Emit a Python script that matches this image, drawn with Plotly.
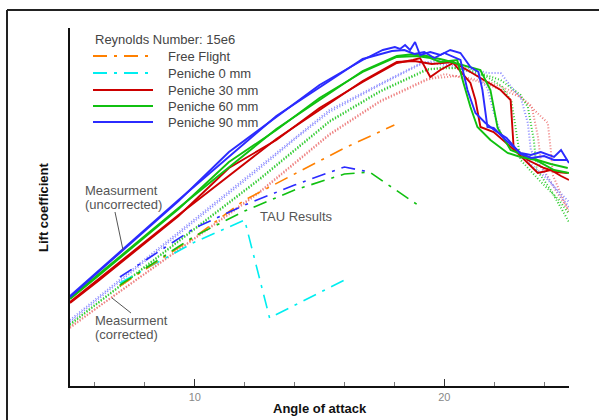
import plotly.graph_objects as go

# ---------------- data (angle of attack, lift coefficient) ----------------
# Measurement, uncorrected (solid) - two sweeps per configuration
blue_a_x = [5.00, 6.13, 7.06, 9.35, 11.37, 13.27, 15.00, 16.73, 17.54, 18.02, 18.23, 18.43, 18.63, 18.83, 19.03, 19.44, 19.84, 20.24, 20.65, 21.05, 21.37, 21.53, 21.73, 21.98, 22.46, 23.06, 23.47, 23.87, 24.40, 24.68, 25.00]
blue_a_y = [0.445, 0.57, 0.675, 0.925, 1.17, 1.345, 1.505, 1.63, 1.68, 1.695, 1.685, 1.705, 1.68, 1.72, 1.655, 1.67, 1.655, 1.68, 1.665, 1.595, 1.57, 1.48, 1.295, 1.29, 1.23, 1.165, 1.155, 1.17, 1.145, 1.18, 1.115]
blue_b_x = [5.00, 9.35, 13.27, 16.73, 17.90, 18.40, 18.80, 19.20, 19.60, 20.00, 20.65, 20.93, 21.25, 21.65, 22.00, 22.50, 23.06, 23.50, 24.00, 24.40, 24.95]
blue_b_y = [0.45, 0.93, 1.35, 1.635, 1.675, 1.68, 1.66, 1.67, 1.64, 1.665, 1.63, 1.48, 1.365, 1.315, 1.28, 1.24, 1.16, 1.14, 1.15, 1.13, 1.13]

green_a_x = [5.00, 6.13, 9.35, 11.37, 13.27, 15.00, 16.73, 18.10, 18.91, 19.44, 19.84, 20.52, 20.77, 21.05, 21.33, 21.85, 22.54, 23.06, 23.67, 24.40, 25.00]
green_a_y = [0.435, 0.55, 0.885, 1.12, 1.28, 1.44, 1.57, 1.645, 1.65, 1.64, 1.62, 1.63, 1.515, 1.395, 1.295, 1.23, 1.165, 1.145, 1.13, 1.08, 1.065]
green_b_x = [5.00, 9.35, 13.27, 16.73, 18.10, 18.80, 19.30, 20.00, 21.45, 21.85, 22.14, 22.66, 23.47, 24.27, 24.95]
green_b_y = [0.44, 0.89, 1.285, 1.575, 1.65, 1.66, 1.65, 1.63, 1.58, 1.48, 1.29, 1.18, 1.14, 1.11, 1.09]

red_a_x = [5.00, 6.13, 9.35, 11.37, 13.27, 15.00, 16.73, 18.10, 18.75, 19.03, 19.44, 19.84, 20.36, 21.05, 21.25, 21.45, 21.98, 22.94, 23.75, 24.27, 24.68, 25.00]
red_a_y = [0.415, 0.525, 0.85, 1.09, 1.23, 1.39, 1.52, 1.615, 1.63, 1.64, 1.545, 1.58, 1.615, 1.515, 1.43, 1.295, 1.27, 1.165, 1.065, 1.08, 1.05, 1.03]
red_b_x = [5.00, 9.35, 13.27, 16.73, 18.10, 18.80, 19.50, 20.36, 21.05, 22.26, 22.66, 22.78, 23.35, 24.00, 24.50, 24.95]
red_b_y = [0.42, 0.855, 1.235, 1.525, 1.62, 1.625, 1.61, 1.62, 1.57, 1.48, 1.43, 1.195, 1.13, 1.09, 1.07, 1.065]

# Measurement, corrected (dotted)
lav_a_x = [5.00, 6.13, 12.58, 14.07, 15.40, 17.42, 19.15, 19.84, 20.77, 21.73, 22.26, 22.78, 23.06, 23.35, 23.47, 23.87, 24.68, 25.00]
lav_a_y = [0.32, 0.435, 1.085, 1.24, 1.37, 1.505, 1.615, 1.63, 1.595, 1.565, 1.565, 1.48, 1.445, 1.315, 1.18, 1.095, 0.945, 0.895]
lav_b_x = [5.00, 12.58, 15.40, 17.42, 19.15, 20.40, 21.25, 21.73, 22.00, 22.30, 23.00, 24.00, 24.70, 25.00]
lav_b_y = [0.33, 1.095, 1.38, 1.51, 1.62, 1.60, 1.56, 1.49, 1.36, 1.25, 1.16, 1.05, 0.96, 0.92]

gdot_a_x = [5.00, 6.13, 12.58, 15.40, 17.42, 19.31, 20.04, 21.05, 22.26, 23.06, 23.35, 23.59, 23.71, 24.27, 25.00]
gdot_a_y = [0.305, 0.415, 1.03, 1.32, 1.47, 1.58, 1.595, 1.58, 1.53, 1.455, 1.395, 1.23, 1.08, 0.98, 0.82]
gdot_b_x = [5.00, 12.58, 15.40, 17.42, 19.31, 20.50, 21.65, 22.30, 22.70, 22.90, 23.06, 23.80, 24.60, 25.00]
gdot_b_y = [0.31, 1.035, 1.325, 1.475, 1.585, 1.59, 1.55, 1.50, 1.42, 1.25, 1.13, 1.03, 0.93, 0.86]

rdot_a_x = [5.00, 6.13, 12.58, 15.40, 17.42, 19.31, 20.04, 21.45, 23.06, 24.15, 24.27, 24.35, 25.00]
rdot_a_y = [0.29, 0.395, 0.965, 1.255, 1.42, 1.53, 1.56, 1.52, 1.445, 1.315, 1.18, 1.055, 0.865]
rdot_b_x = [5.00, 12.58, 15.40, 17.42, 19.31, 20.50, 21.80, 22.80, 23.50, 23.75, 23.90, 24.50, 25.00]
rdot_b_y = [0.295, 0.97, 1.26, 1.425, 1.535, 1.55, 1.52, 1.47, 1.40, 1.25, 1.10, 0.97, 0.88]

# TAU results (dash-dot)
tau_ff_x = [7, 10, 12, 14, 16, 18]
tau_ff_y = [0.50, 0.745, 0.93, 1.06, 1.19, 1.305]
tau_p0_x = [7, 10, 12, 13, 16]
tau_p0_y = [0.515, 0.72, 0.83, 0.34, 0.53]
tau_p60_x = [7, 10, 12, 14, 16, 17, 19]
tau_p60_y = [0.505, 0.75, 0.875, 0.98, 1.06, 1.07, 0.90]
tau_p90_x = [7, 10, 12, 14, 16, 17]
tau_p90_y = [0.545, 0.79, 0.905, 1.005, 1.095, 1.07]

legend_labels = ["Free Flight", "Peniche 0 mm", "Peniche 30 mm", "Peniche 60 mm", "Peniche 90 mm"]
x_ticks = [10, 20]

# ---------------- styles ----------------
ORANGE = "#ff8000"
CYAN = "#00eef0"
RED = "#cc0000"
GREEN = "#10c010"
BLUE = "#2b2bff"
LAV = "#8a8aff"
GDOT = "#33cc33"
RDOT = "#ee8080"
DASHDOT = "14px,7px,3px,7px"
FONT = "Liberation Sans, Arial, sans-serif"

fig = go.Figure()

def add(x, y, color, width, dash):
    fig.add_trace(go.Scatter(x=x, y=y, mode="lines", showlegend=False, hoverinfo="skip",
                             line=dict(color=color, width=width, dash=dash)))

# corrected (dotted)
for xs, ys, c in [(rdot_a_x, rdot_a_y, RDOT), (rdot_b_x, rdot_b_y, RDOT),
                  (gdot_a_x, gdot_a_y, GDOT), (gdot_b_x, gdot_b_y, GDOT),
                  (lav_a_x, lav_a_y, LAV), (lav_b_x, lav_b_y, LAV)]:
    add(xs, ys, c, 2, "1px,2px")

# TAU
add(tau_p0_x, tau_p0_y, CYAN, 1.6, DASHDOT)
add(tau_ff_x, tau_ff_y, ORANGE, 1.6, DASHDOT)
add(tau_p60_x, tau_p60_y, GREEN, 1.6, DASHDOT)
add(tau_p90_x, tau_p90_y, BLUE, 1.6, DASHDOT)

# uncorrected (solid)
for xs, ys, c in [(red_a_x, red_a_y, RED), (red_b_x, red_b_y, RED),
                  (green_a_x, green_a_y, GREEN), (green_b_x, green_b_y, GREEN),
                  (blue_a_x, blue_a_y, BLUE), (blue_b_x, blue_b_y, BLUE)]:
    add(xs, ys, c, 1.9, "solid")

# ---------------- layout ----------------
L, T, W, H = 70, 28, 499, 358  # plot area in px

def px(x):
    return (x - L) / W

def py(y):
    return (T + H - y) / H

shapes = []
# outer frame (left and top)
shapes.append(dict(type="line", xref="paper", yref="paper", x0=px(7), x1=px(7), y0=py(10), y1=py(425),
                   line=dict(color="#222", width=2)))
shapes.append(dict(type="line", xref="paper", yref="paper", x0=px(7), x1=px(605), y0=py(10), y1=py(10),
                   line=dict(color="#222", width=2)))

# legend
leg_colors = [ORANGE, CYAN, RED, GREEN, BLUE]
leg_dash = [DASHDOT, DASHDOT, "solid", "solid", "solid"]
leg_rows = [56, 73, 90, 106, 122]
annotations = []
for lab, c, d, r in zip(legend_labels, leg_colors, leg_dash, leg_rows):
    shapes.append(dict(type="line", xref="paper", yref="paper", x0=px(93), x1=px(153), y0=py(r), y1=py(r),
                       line=dict(color=c, width=2, dash=d)))
    annotations.append(dict(xref="paper", yref="paper", x=px(166), y=py(r), text=lab, showarrow=False,
                            xanchor="left", yanchor="middle", font=dict(family=FONT, size=13, color="#444")))
annotations.append(dict(xref="paper", yref="paper", x=px(93), y=py(39), text="Reynolds Number: 15e6",
                        showarrow=False, xanchor="left", yanchor="middle",
                        font=dict(family=FONT, size=13, color="#444")))

# leader lines
shapes.append(dict(type="line", xref="paper", yref="paper", x0=px(115), x1=px(123), y0=py(212), y1=py(250),
                   line=dict(color="#555", width=1)))
shapes.append(dict(type="line", xref="paper", yref="paper", x0=px(112), x1=px(131), y0=py(298), y1=py(313),
                   line=dict(color="#555", width=1)))

for txt, x, y in [("Measurment", 83, 190), ("(uncorrected)", 83, 204),
                  ("Measurment", 93, 320), ("(corrected)", 93, 334),
                  ("TAU Results", 258, 216)]:
    annotations.append(dict(xref="paper", yref="paper", x=px(x), y=py(y), text=txt, showarrow=False,
                            xanchor="left", yanchor="middle", font=dict(family=FONT, size=13, color="#555")))

# axis titles
annotations.append(dict(xref="paper", yref="paper", x=px(320), y=py(408), text="<b>Angle of attack</b>",
                        showarrow=False, xanchor="center", yanchor="middle",
                        font=dict(family=FONT, size=13, color="#111")))
annotations.append(dict(xref="paper", yref="paper", x=px(43), y=py(207), text="<b>Lift coefficient</b>",
                        showarrow=False, xanchor="center", yanchor="middle", textangle=-90,
                        font=dict(family=FONT, size=13, color="#111")))

fig.update_layout(
    width=599, height=420,
    margin=dict(l=L, r=599 - L - W, t=T, b=420 - T - H, autoexpand=False),
    paper_bgcolor="white", plot_bgcolor="white",
    shapes=shapes, annotations=annotations,
    xaxis=dict(range=[5, 25], showgrid=False, zeroline=False, showline=True, linecolor="#111", linewidth=2,
               tickmode="array", tickvals=x_ticks, ticks="inside", ticklen=7, tickwidth=1, tickcolor="#333",
               minor=dict(dtick=2, tick0=0, ticks="inside", ticklen=4, tickcolor="#777", tickwidth=1),
               tickfont=dict(family=FONT, size=11, color="#888"), fixedrange=True),
    yaxis=dict(range=[0, 1.79], showgrid=False, zeroline=False, showline=True, linecolor="#111", linewidth=2,
               showticklabels=False, ticks="", fixedrange=True),
)

fig.write_html("out.html", config={"displayModeBar": False},
               post_script="document.body.style.margin='0';document.body.style.overflow='hidden';")
